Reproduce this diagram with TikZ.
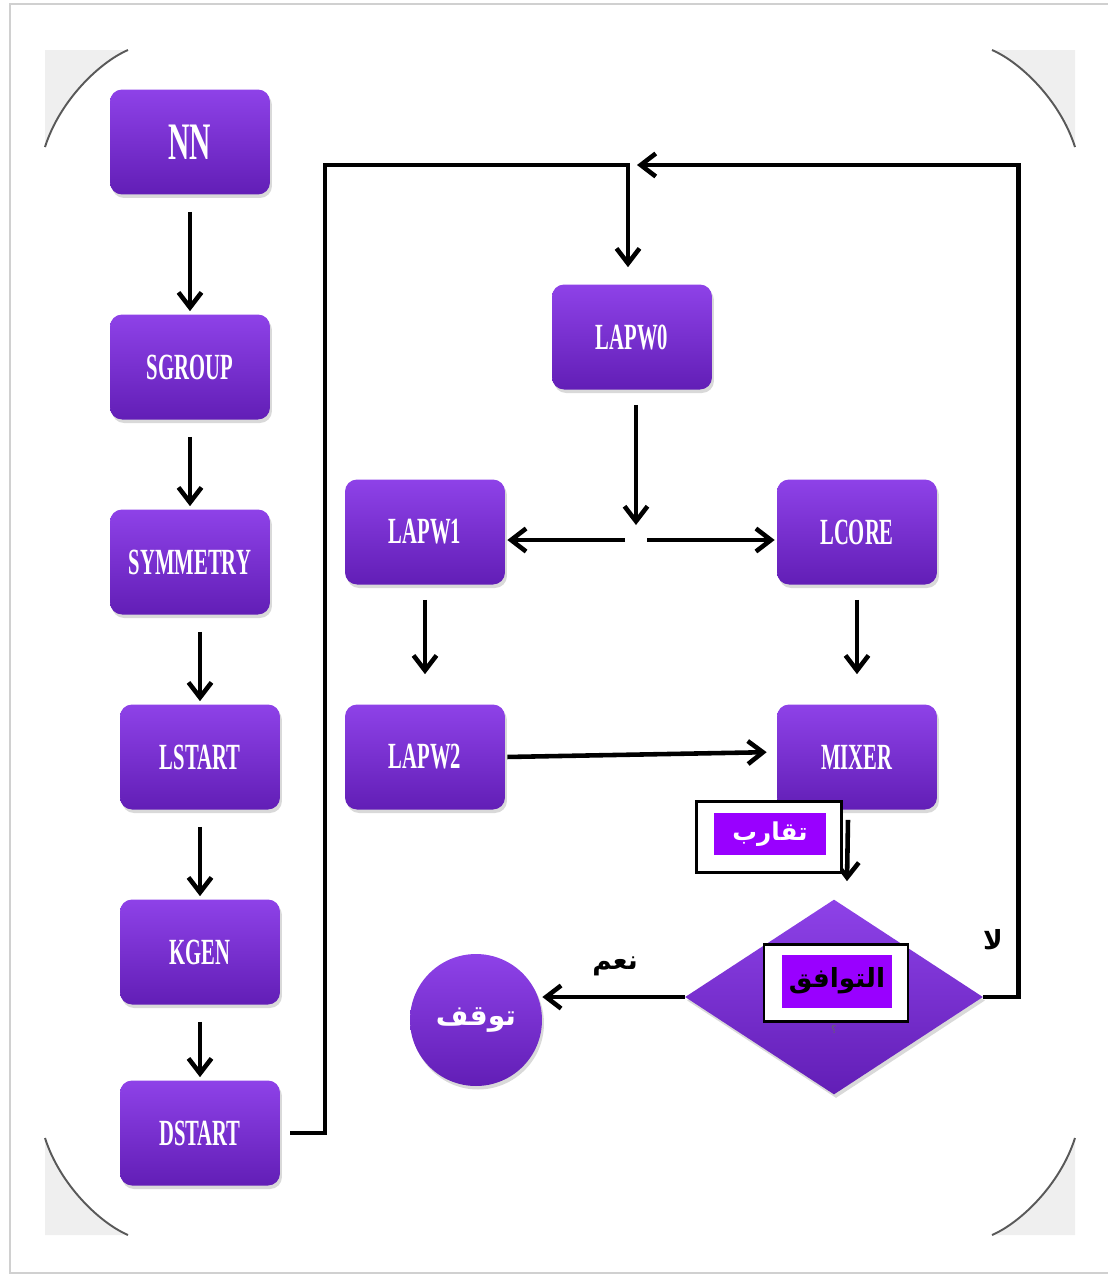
\documentclass[tikz,border=0pt]{standalone}
\usepackage{fontspec}
\usepackage{tikz}
\usetikzlibrary{arrows.meta,calc,shapes.geometric,shadows}
\TeXXeTstate=1
\newfontfamily\boxfont[FakeStretch=0.56]{Liberation Serif}
\newfontfamily\arabicfont[Script=Arabic]{DejaVu Sans}
\definecolor{boxtop}{RGB}{142,66,232}
\definecolor{boxbot}{RGB}{98,30,182}
\definecolor{tagcolor}{RGB}{153,0,255}
\definecolor{cornergray}{RGB}{239,239,239}
\definecolor{framegray}{RGB}{208,208,208}
\tikzset{
  stepbox/.style={rounded corners=2.4mm, minimum width=3.2cm, minimum height=2.1cm,
    top color=boxtop, bottom color=boxbot, text=white,
    font=\boxfont\bfseries\fontsize{21}{21}\selectfont,
    drop shadow={shadow xshift=0.4mm, shadow yshift=-0.7mm, opacity=0.3}},
  flowln/.style={line width=2.6pt, line join=miter},
  flowarr/.style={flowln, -{Straight Barb[length=3mm,width=4.6mm]}},
  vstep/.style={flowarr, shorten <=0.34cm, shorten >=0.06cm},
  tagout/.style={draw=black, line width=1.2pt, fill=white, inner sep=0pt},
  tagin/.style={fill=tagcolor, inner sep=0pt},
  arlbl/.style={font=\arabicfont\bfseries\fontsize{15}{15}\selectfont},
  cornerarc/.style={draw=black!65, line width=1.1pt},
}

\begin{document}
\begin{tikzpicture}[x=0.02cm, y=-0.02cm]
  \useasboundingbox (0,0) rectangle (1108,1276);
  % frame and corners
  \draw[framegray, line width=1.6pt] (10,4) rectangle (1115,1273);
  \fill[cornergray] (45,50) -- (128,50) .. controls (100,62) and (60,100) .. (45,147) -- cycle;
  \fill[cornergray] (1075,50) -- (992,50) .. controls (1020,62) and (1060,100) .. (1075,147) -- cycle;
  \fill[cornergray] (45,1235) -- (128,1235) .. controls (100,1223) and (60,1185) .. (45,1138) -- cycle;
  \fill[cornergray] (1075,1235) -- (992,1235) .. controls (1020,1223) and (1060,1185) .. (1075,1138) -- cycle;
  \draw[cornerarc] (128,50) .. controls (100,62) and (60,100) .. (45,147);
  \draw[cornerarc] (992,50) .. controls (1020,62) and (1060,100) .. (1075,147);
  \draw[cornerarc] (128,1235) .. controls (100,1223) and (60,1185) .. (45,1138);
  \draw[cornerarc] (992,1235) .. controls (1020,1223) and (1060,1185) .. (1075,1138);

  % left column
  \node[stepbox, font=\boxfont\bfseries\fontsize{30}{30}\selectfont] (nn) at (190,142) {NN};
  \node[stepbox] (sgroup) at (190,367) {SGROUP};
  \node[stepbox] (symm) at (190,562) {SYMMETRY};
  \node[stepbox] (lstart) at (200,757) {LSTART};
  \node[stepbox] (kgen) at (200,952) {KGEN};
  \node[stepbox] (dstart) at (200,1133) {DSTART};
  \draw[vstep] (nn.south) -- (sgroup.north);
  \draw[vstep] (sgroup.south) -- (symm.north);
  \draw[vstep] (symm.south -| lstart) -- (lstart.north);
  \draw[vstep] (lstart.south) -- (kgen.north);
  \draw[vstep] (kgen.south) -- (dstart.north);

  % scf cycle
  \node[stepbox] (lapw0) at (632,337) {LAPW0};
  \node[stepbox] (lapw1) at (425,532) {LAPW1};
  \node[stepbox] (lcore) at (857,532) {LCORE};
  \node[stepbox] (lapw2) at (425,757) {LAPW2};
  \node[stepbox] (mixer) at (857,757) {MIXER};
  \node[diamond, minimum width=5.96cm, minimum height=3.9cm, inner sep=0pt,
    top color=boxtop, bottom color=boxbot,
    drop shadow={shadow xshift=0.4mm, shadow yshift=-0.7mm, opacity=0.3}] (conv) at (834,997) {};
  \node[circle, minimum size=2.64cm, inner sep=0pt, top color=boxtop, bottom color=boxbot,
    text=white, font=\arabicfont\bfseries\fontsize{16}{16}\selectfont,
    drop shadow={shadow xshift=0.4mm, shadow yshift=-0.7mm, opacity=0.3}] (stop) at (476,1020) {\beginR توقف\endR};

  \coordinate (loopl) at (325,165);
  \coordinate (top) at (628,165);
  \coordinate (back) at (637,165);
  \coordinate (split) at (636,540);
  \draw[flowarr, shorten <=0.2cm, shorten >=0.34cm] (dstart.east) -| (loopl) -- (top) -- (top |- lapw0.north);
  \draw[flowarr] (conv.east) -- ++(35,0) |- (back);
  \draw[flowarr, shorten <=0.3cm] (lapw0.south -| split) -- ([yshift=0.3cm]split);
  \draw[flowarr, shorten >=0.04cm] ([xshift=-0.22cm]split) -- (split -| lapw1.east);
  \draw[flowarr, shorten >=0.04cm] ([xshift=0.22cm]split) -- (split -| lcore.west);
  \draw[flowarr, shorten <=0.3cm, shorten >=0.6cm] (lapw1.south) -- (lapw2.north);
  \draw[flowarr, shorten <=0.3cm, shorten >=0.6cm] (lcore.south) -- (mixer.north);
  \draw[flowarr, shorten <=0.04cm, shorten >=0.2cm] (lapw2.east) -- ([yshift=0.1cm]mixer.west);
  \draw[flowarr] ($(mixer.south)+(-9,10)$) -- ($(conv.north)+(13,-18)$);
  \draw[flowarr] (conv.west) -- (conv.west -| stop.east);

  % tags
  \node[tagout, minimum width=2.9cm, minimum height=1.42cm] (tagA) at (769,837) {};
  \node[tagin, minimum width=2.24cm, minimum height=0.84cm, text=white,
    font=\arabicfont\bfseries\fontsize{14}{14}\selectfont] (tagAin) at (770,834) {\beginR تقارب\endR};
  \node[tagout, minimum width=2.88cm, minimum height=1.54cm] (tagB) at (836,983) {};
  \node[tagin, minimum width=2.2cm, minimum height=1.06cm, text=black,
    font=\arabicfont\bfseries\fontsize{15}{15}\selectfont] (tagBin) at (837,981) {\beginR التوافق\endR};
  \node[font=\arabicfont\fontsize{6}{6}\selectfont, text=black!60] (qmark) at (834,1030) {؟};

  \node[arlbl] (yes) at (615,966) {\beginR نعم\endR};
  \node[arlbl] (no) at (993,940) {\beginR لا\endR};
\end{tikzpicture}
\end{document}
